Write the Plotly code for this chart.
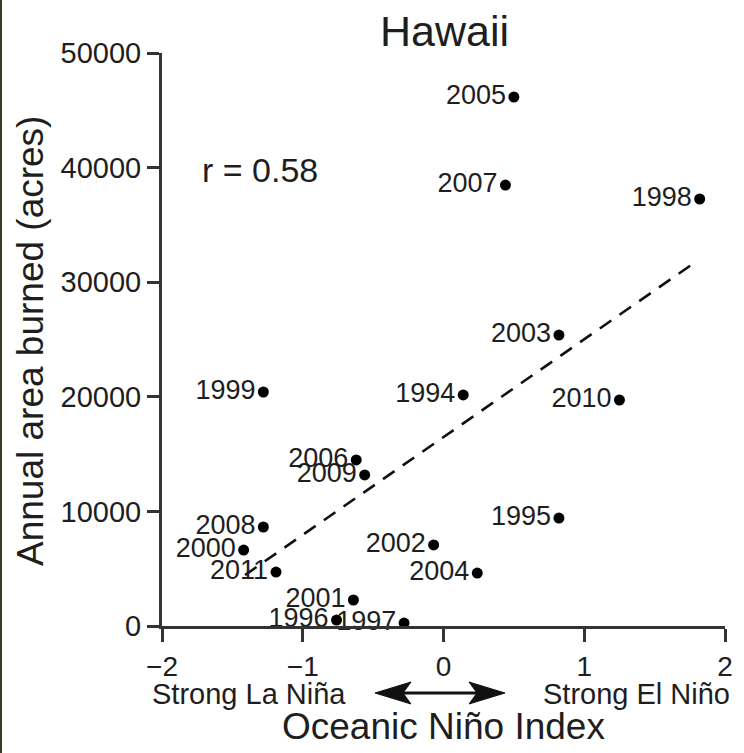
import plotly.graph_objects as go

# ---- data ----
years = ["2005", "2007", "1998", "2003", "1994", "2010", "1999", "2006", "2009",
         "1995", "2008", "2000", "2002", "2004", "2011", "2001", "1996", "1997"]
oni = [0.50, 0.44, 1.82, 0.82, 0.14, 1.25, -1.28, -0.62, -0.56,
       0.82, -1.28, -1.42, -0.07, 0.24, -1.19, -0.64, -0.76, -0.28]
area = [46160, 38480, 37260, 25390, 20160, 19720, 20420, 14490, 13180,
        9420, 8640, 6630, 7070, 4620, 4710, 2270, 520, 260]
trend_x = [-1.41, 1.77]
trend_y = [4450, 31590]
x_ticks = [-2, -1, 0, 1, 2]
x_tick_labels = ["−2", "−1", "0", "1", "2"]
y_ticks = [0, 10000, 20000, 30000, 40000, 50000]
y_tick_labels = ["0", "10000", "20000", "30000", "40000", "50000"]

FONT = "Liberation Sans, Arial, Helvetica, sans-serif"
INK = "#1e1e1e"
AX = "#333333"

W, H = 744, 753
L, R, T, B = 162, 19, 53, 127
pw, ph = W - L - R, H - T - B


def px2paper_x(px):
    return (px - L) / pw


def px2paper_y(py):
    return (H - B - py) / ph


fig = go.Figure()

fig.add_trace(go.Scatter(
    x=trend_x, y=trend_y, mode="lines",
    line=dict(color="#111111", width=2.6, dash="14px,10px"),
    hoverinfo="skip", showlegend=False,
))

fig.add_trace(go.Scatter(
    x=oni, y=area, mode="markers+text",
    text=years, textposition="middle left",
    textfont=dict(family=FONT, size=27, color=INK),
    marker=dict(color="#000000", size=11),
    cliponaxis=False, showlegend=False,
))

annotations = [
    dict(text="Hawaii", x=px2paper_x(445), y=px2paper_y(31), xref="paper", yref="paper",
         xanchor="center", yanchor="middle", showarrow=False,
         font=dict(family=FONT, size=43, color=INK)),
    dict(text="r = 0.58", x=-1.73, y=39800, xref="x", yref="y",
         xanchor="left", yanchor="middle", showarrow=False,
         font=dict(family=FONT, size=34, color=INK)),
    dict(text="Annual area burned (acres)", x=px2paper_x(30), y=px2paper_y(341),
         xref="paper", yref="paper", xanchor="center", yanchor="middle",
         textangle=-90, showarrow=False,
         font=dict(family=FONT, size=37, color=INK)),
    dict(text="Oceanic Niño Index", x=px2paper_x(443), y=px2paper_y(726),
         xref="paper", yref="paper", xanchor="center", yanchor="middle",
         showarrow=False, font=dict(family=FONT, size=37, color=INK)),
    dict(text="Strong La Niña", x=px2paper_x(150), y=px2paper_y(694),
         xref="paper", yref="paper", xanchor="left", yanchor="middle",
         showarrow=False, font=dict(family=FONT, size=29, color=INK)),
    dict(text="Strong El Niño", x=px2paper_x(732), y=px2paper_y(694),
         xref="paper", yref="paper", xanchor="right", yanchor="middle",
         showarrow=False, font=dict(family=FONT, size=29, color=INK)),
]

# double-headed arrow
ay = px2paper_y(693)
lx1, lx2 = 375, 505
head_len, head_half = 36, 11
shapes = [
    dict(type="line", xref="paper", yref="paper",
         x0=px2paper_x(lx1 + 20), x1=px2paper_x(lx2 - 20), y0=ay, y1=ay,
         line=dict(color="#111111", width=3)),
    dict(type="path", xref="paper", yref="paper",
         path=(f"M {px2paper_x(lx1)},{ay} "
               f"L {px2paper_x(lx1 + head_len)},{px2paper_y(693 - head_half)} "
               f"L {px2paper_x(lx1 + head_len - 8)},{ay} "
               f"L {px2paper_x(lx1 + head_len)},{px2paper_y(693 + head_half)} Z"),
         fillcolor="#111111", line=dict(color="#111111", width=1)),
    dict(type="path", xref="paper", yref="paper",
         path=(f"M {px2paper_x(lx2)},{ay} "
               f"L {px2paper_x(lx2 - head_len)},{px2paper_y(693 - head_half)} "
               f"L {px2paper_x(lx2 - head_len + 8)},{ay} "
               f"L {px2paper_x(lx2 - head_len)},{px2paper_y(693 + head_half)} Z"),
         fillcolor="#111111", line=dict(color="#111111", width=1)),
    # dark frame edge on the left side of the picture
    dict(type="rect", xref="paper", yref="paper",
         x0=px2paper_x(0), x1=px2paper_x(2), y0=px2paper_y(H), y1=px2paper_y(0),
         fillcolor="#3a3a20", line=dict(width=0)),
]

fig.update_layout(
    width=W, height=H,
    margin=dict(l=L, r=R, t=T, b=B),
    paper_bgcolor="white", plot_bgcolor="white",
    showlegend=False,
    annotations=annotations,
    shapes=shapes,
    xaxis=dict(
        range=[-2, 2], tickvals=x_ticks, ticktext=x_tick_labels,
        showgrid=False, zeroline=False, showline=True, linecolor=AX, linewidth=3,
        ticks="outside", ticklen=13, tickwidth=3, tickcolor=AX,
        tickfont=dict(family=FONT, size=28, color=INK),
    ),
    yaxis=dict(
        range=[0, 50000], tickvals=y_ticks, ticktext=y_tick_labels,
        showgrid=False, zeroline=False, showline=True, linecolor=AX, linewidth=3,
        ticks="outside", ticklen=12, tickwidth=3, tickcolor=AX,
        tickfont=dict(family=FONT, size=29, color=INK),
    ),
)

fig.write_html(
    "out.html",
    config={"displayModeBar": False},
    post_script="document.body.style.margin='0';document.body.style.padding='0';",
)
